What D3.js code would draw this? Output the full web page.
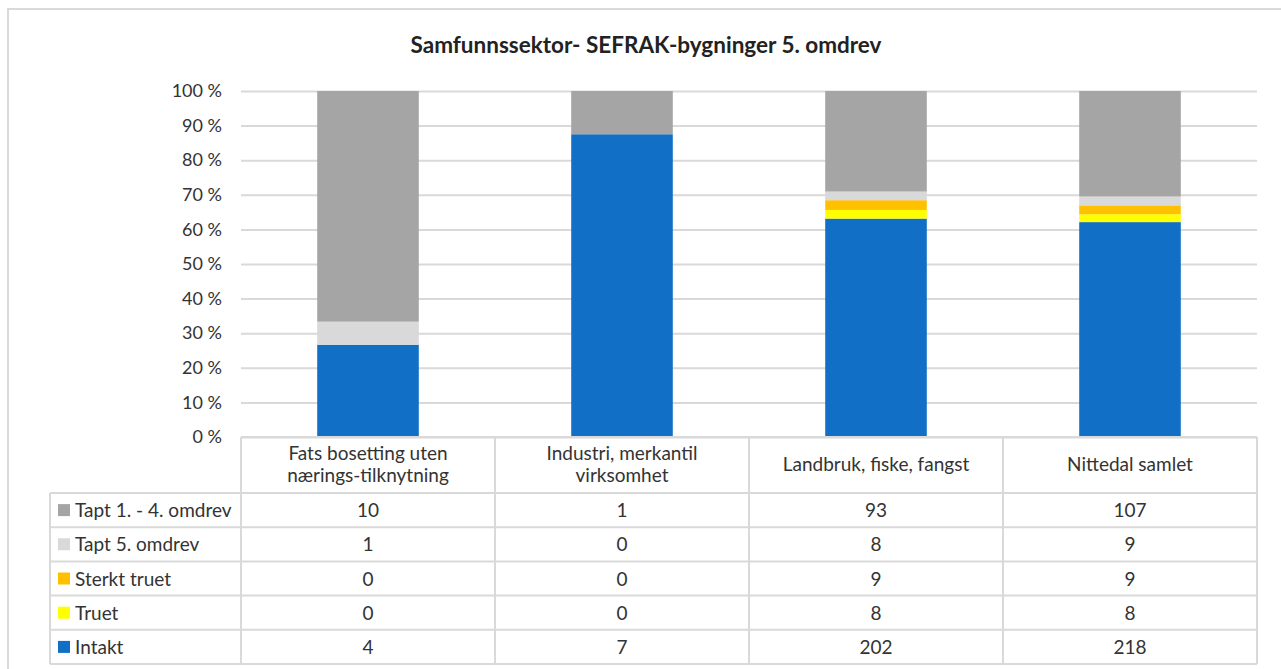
<!DOCTYPE html>
<html><head><meta charset="utf-8">
<script src="https://cdn.jsdelivr.net/npm/d3@7"></script>
<style>body{margin:0;background:#fff}svg{display:block}text{font-family:Lato,"Open Sans",sans-serif}</style>
</head><body>
<svg id="c" width="1281" height="669"></svg>
<script>
const title = "Samfunnssektor- SEFRAK-bygninger 5. omdrev";
const categories = [["Fats bosetting uten","nærings-tilknytning"],["Industri, merkantil","virksomhet"],["Landbruk, fiske, fangst"],["Nittedal samlet"]];
const seriesNames = ["Intakt","Truet","Sterkt truet","Tapt 5. omdrev","Tapt 1. - 4. omdrev"];
const seriesColors = ["#1170C6","#FFFF00","#FFC000","#D9D9D9","#A5A5A5"];
const intakt = [4,7,202,218];
const truet = [0,0,8,8];
const sterktTruet = [0,0,9,9];
const tapt5 = [1,0,8,9];
const tapt14 = [10,1,93,107];
const yTicks = [0,10,20,30,40,50,60,70,80,90,100];

const series = [intakt,truet,sterktTruet,tapt5,tapt14];
const svg = d3.select("#c");
const L=241,R=1257,T=91,B=437;
const x = d3.scaleBand().domain(d3.range(categories.length)).range([L,R]).paddingInner(0.6).paddingOuter(0.3);
const xc = d3.scaleBand().domain(d3.range(categories.length)).range([L,R]);
const y = d3.scaleLinear().domain([0,100]).range([B,T]);
const grid="#D9D9D9";
const fs=19;

// outer frame
svg.append("line").attr("x1",7).attr("x2",1281).attr("y1",9).attr("y2",9).attr("stroke",grid).attr("stroke-width",2);
svg.append("line").attr("x1",8).attr("x2",8).attr("y1",9).attr("y2",669).attr("stroke",grid).attr("stroke-width",2);

svg.append("text").attr("x",646).attr("y",53).attr("text-anchor","middle").attr("font-size",22.5).attr("font-weight","bold").attr("fill","#222").text(title);

// grid + y axis
const ya = svg.append("g").attr("transform",`translate(${L},0)`).call(d3.axisLeft(y).tickValues(yTicks).tickSize(-(R-L)).tickFormat(d=>d+" %"));
ya.select(".domain").remove();
ya.selectAll(".tick line").attr("stroke",grid).attr("stroke-width",2);
ya.selectAll(".tick text").attr("x",-19).attr("font-size",18).attr("fill","#333").style("font-family","Lato,sans-serif");

// stacked bars
const data = categories.map((c,i)=>{const o={i}; seriesNames.forEach((s,k)=>o[s]=series[k][i]); o.total=d3.sum(series,s=>s[i]); return o;});
const stack = d3.stack().keys(seriesNames).value((d,k)=>d[k]/d.total*100);
const layers = stack(data);
svg.append("g").selectAll("g").data(layers).join("g").attr("fill",(d,k)=>seriesColors[k])
  .selectAll("rect").data(d=>d).join("rect")
  .attr("x",d=>x(d.data.i)).attr("width",x.bandwidth())
  .attr("y",d=>y(d[1])).attr("height",d=>Math.max(0,y(d[0])-y(d[1])));

// data table
const headerH=56,rowH=34.2,legL=50;
const tg = svg.append("g");
const rowsOrder=[4,3,2,1,0];
const tableBottom = B+headerH+rowH*rowsOrder.length;
tg.append("line").attr("x1",L).attr("x2",R).attr("y1",B).attr("y2",B).attr("stroke",grid).attr("stroke-width",2);
for(let r=0;r<=rowsOrder.length;r++){const yy=B+headerH+r*rowH; tg.append("line").attr("x1",legL).attr("x2",R).attr("y1",yy).attr("y2",yy).attr("stroke",grid).attr("stroke-width",2);}
[L,...categories.map((c,i)=>xc(i)+xc.bandwidth())].forEach(xx=>tg.append("line").attr("x1",xx).attr("x2",xx).attr("y1",B).attr("y2",tableBottom).attr("stroke",grid).attr("stroke-width",2));
tg.append("line").attr("x1",legL).attr("x2",legL).attr("y1",B+headerH).attr("y2",tableBottom).attr("stroke",grid).attr("stroke-width",2);
categories.forEach((c,i)=>{
  const cx=xc(i)+xc.bandwidth()/2;
  const n=c.length;
  c.forEach((line,j)=>tg.append("text").attr("x",cx).attr("y",B+headerH/2+6+(j-(n-1)/2)*22).attr("text-anchor","middle").attr("font-size",fs).attr("fill","#333").text(line));
});
rowsOrder.forEach((k,r)=>{
  const yc=B+headerH+r*rowH+rowH/2;
  tg.append("rect").attr("x",legL+8).attr("y",yc-6).attr("width",12).attr("height",12).attr("fill",seriesColors[k]);
  tg.append("text").attr("x",legL+25).attr("y",yc+7).attr("font-size",fs).attr("fill","#333").text(seriesNames[k]);
  categories.forEach((c,i)=>tg.append("text").attr("x",xc(i)+xc.bandwidth()/2).attr("y",yc+7).attr("text-anchor","middle").attr("font-size",fs).attr("fill","#333").text(series[k][i]));
});
</script>
</body></html>
